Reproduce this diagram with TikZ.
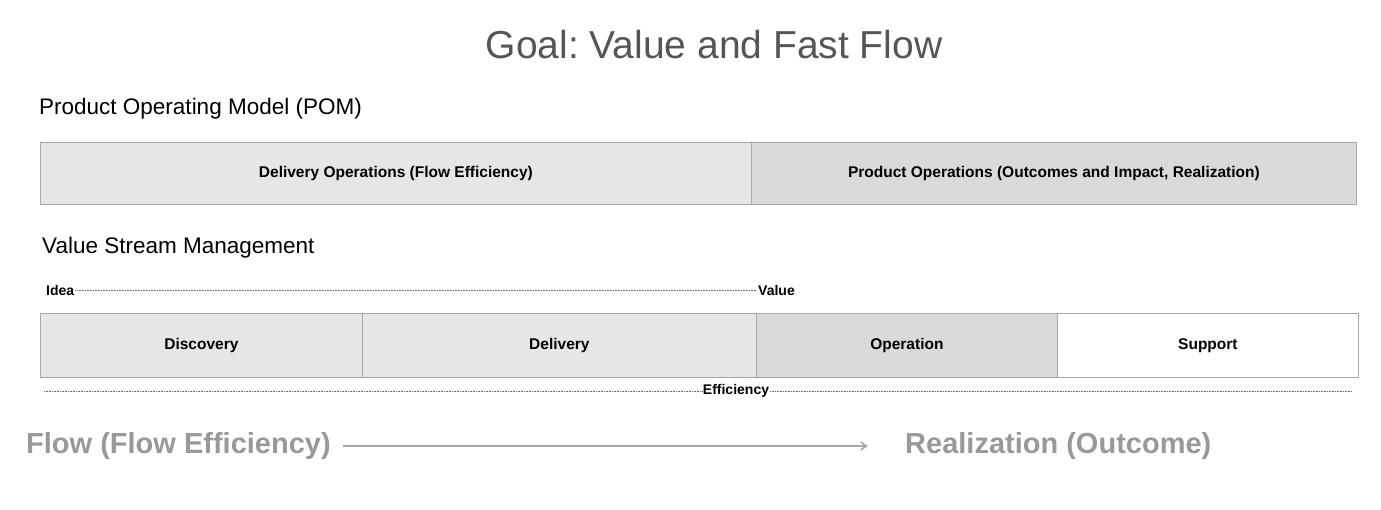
\documentclass[tikz,border=0pt]{standalone}
\usepackage{fontspec}
\setmainfont{Liberation Sans}
\usetikzlibrary{arrows.meta}
\definecolor{bA}{HTML}{E6E6E6}
\definecolor{bB}{HTML}{DADADA}
\definecolor{ln}{HTML}{A8A8A8}
\definecolor{tt}{HTML}{555555}
\definecolor{fl}{HTML}{999999}
\begin{document}
\begin{tikzpicture}[x=1pt,y=-1pt,
  box/.style={draw=ln,line width=0.8pt,minimum height=62pt,inner sep=0pt,anchor=north west,font=\bfseries\fontsize{15.5}{18}\selectfont},
  lbl/.style={anchor=west,inner sep=0pt,font=\fontsize{22.5}{26}\selectfont},
  sm/.style={inner sep=1pt,font=\bfseries\fontsize{14}{16}\selectfont},
  big/.style={anchor=west,inner sep=0pt,text=fl,font=\bfseries\fontsize{29}{34}\selectfont},
  dots/.style={draw=black!60,line width=0.5pt,dash pattern=on 0.8pt off 0.8pt}]
\useasboundingbox (0,0) rectangle (1381,509);
\node[inner sep=0pt,text=tt,font=\fontsize{39}{46}\selectfont] (title) at (714,45) {Goal:\ Value and Fast Flow};
\node[lbl] (pom) at (39,109) {Product Operating Model (POM)};
\node[box,fill=bA,minimum width=711pt] (dop) at (40,142) {Delivery Operations (Flow Efficiency)};
\node[box,fill=bB,minimum width=605pt] (pop) at (751,142) {Product Operations (Outcomes and Impact, Realization)};
\node[lbl] (vsm) at (42,248) {Value Stream Management};
\node[sm,anchor=west] (idea) at (45,290) {Idea};
\node[sm,anchor=west] (value) at (757,290) {Value};
\draw[dots] (idea.east) -- (value.west);
\node[box,fill=bA,minimum width=322pt,minimum height=64pt] (disc) at (40,313) {Discovery};
\node[box,fill=bA,minimum width=394pt,minimum height=64pt] (del) at (362,313) {Delivery};
\node[box,fill=bB,minimum width=301pt,minimum height=64pt] (op) at (756,313) {Operation};
\node[box,fill=white,minimum width=301pt,minimum height=64pt] (sup) at (1057,313) {Support};
\coordinate (el) at (44,391);
\coordinate (er) at (1352,391);
\node[sm] (eff) at (736,391) {Efficiency};
\draw[dots] (el) -- (eff.west);
\draw[dots] (eff.east) -- (er);
\node[big] (flow) at (26,446) {Flow (Flow Efficiency)};
\node[big] (real) at (905,446) {Realization (Outcome)};
\draw[ln,line width=1.5pt,-{Straight Barb[length=6pt,width=8pt]}] (343,446) -- (868,446);
\end{tikzpicture}
\end{document}
